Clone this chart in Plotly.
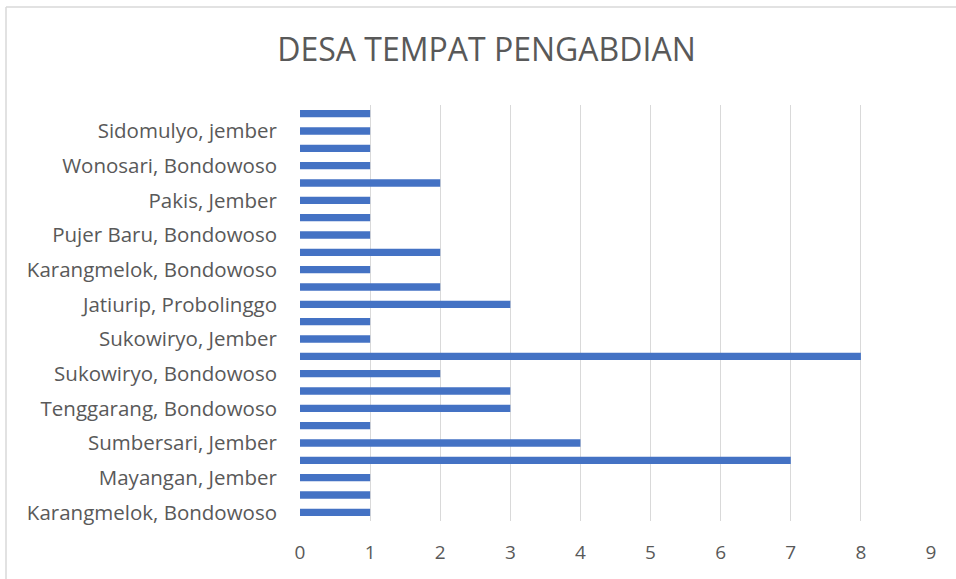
import plotly.graph_objects as go

# Values from bottom bar to top bar (24 bars)
values = [1, 1, 1, 7, 4, 1, 3, 3, 2, 8, 1, 1, 3, 2, 1, 2, 1, 1, 1, 2, 1, 1, 1, 1]
# Only every other category label is shown in the reference (bottom to top)
shown_labels = [
    "Karangmelok, Bondowoso",
    "Mayangan, Jember",
    "Sumbersari, Jember",
    "Tenggarang, Bondowoso",
    "Sukowiryo, Bondowoso",
    "Sukowiryo, Jember",
    "Jatiurip, Probolinggo",
    "Karangmelok, Bondowoso",
    "Pujer Baru, Bondowoso",
    "Pakis, Jember",
    "Wonosari, Bondowoso",
    "Sidomulyo, jember",
]
x_ticks = [0, 1, 2, 3, 4, 5, 6, 7, 8, 9]
title_text = "DESA TEMPAT PENGABDIAN"

positions = list(range(len(values)))
tick_positions = positions[::2]

FONT = "Open Sans"
TXT = "#595959"

fig = go.Figure(
    go.Bar(
        x=values,
        y=positions,
        orientation="h",
        width=0.42,
        marker=dict(color="#4472C4", line=dict(width=0)),
    )
)

W, H = 956, 579
L, R, T, B = 300, 25, 105, 58
pw, ph = W - L - R, H - T - B

def px_to_paper_x(px):
    return (px - L) / pw

def px_to_paper_y(py):
    return (H - B - py) / ph

fig.update_layout(
    width=W,
    height=H,
    margin=dict(l=L, r=R, t=T, b=B),
    paper_bgcolor="white",
    plot_bgcolor="white",
    showlegend=False,
    title=dict(
        text=title_text,
        x=486.5 / W,
        xanchor="center",
        xref="container",
        y=1 - 50 / H,
        yanchor="middle",
        yref="container",
        font=dict(family=FONT, size=32, color=TXT),
    ),
    xaxis=dict(
        range=[0, 9],
        tickvals=x_ticks,
        showgrid=True,
        gridcolor="#D9D9D9",
        gridwidth=1.3,
        zeroline=False,
        showline=False,
        ticks="",
        tickfont=dict(family=FONT, size=19, color=TXT),
        ticklabelstandoff=18,
    ),
    yaxis=dict(
        range=[-0.5, 23.5],
        tickvals=tick_positions,
        ticktext=shown_labels,
        showgrid=False,
        zeroline=False,
        showline=False,
        ticks="",
        tickfont=dict(family=FONT, size=20.5, color=TXT),
        ticklabelstandoff=22,
    ),
    shapes=[
        dict(type="line", xref="paper", yref="paper",
             x0=px_to_paper_x(6), x1=px_to_paper_x(6),
             y0=px_to_paper_y(7), y1=px_to_paper_y(590),
             line=dict(color="#D9D9D9", width=1.5)),
        dict(type="line", xref="paper", yref="paper",
             x0=px_to_paper_x(6), x1=px_to_paper_x(970),
             y0=px_to_paper_y(7), y1=px_to_paper_y(7),
             line=dict(color="#D9D9D9", width=1.5)),
    ],
)

fig.write_html(
    "out.html",
    config={"displayModeBar": False},
    post_script="document.body.style.margin='0';",
)
